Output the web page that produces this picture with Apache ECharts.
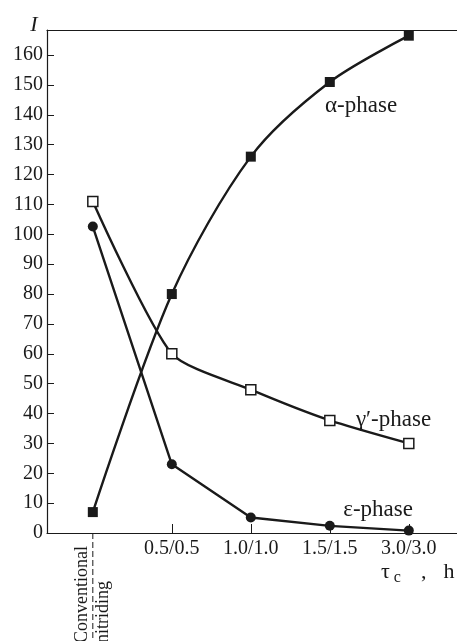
<!DOCTYPE html>
<html>
<head>
<meta charset="utf-8">
<script src="https://cdn.jsdelivr.net/npm/echarts@6/dist/echarts.min.js"></script>
<style>
html,body{margin:0;padding:0;background:#fff;}
#c{width:457px;height:641px;}
</style>
</head>
<body>
<div id="c"></div>
<script>
// ---- data ----
var xPositions = [0, 1, 2, 3, 4];
var categories = ['Conventional nitriding', '0.5/0.5', '1.0/1.0', '1.5/1.5', '3.0/3.0'];
var alphaPhase = [7, 80, 126, 151, 166.5];
var gammaPhase = [111, 60, 48, 37.7, 30];
var epsPhase   = [102.6, 23, 5.2, 2.4, 0.8];
var yTicks = [0,10,20,30,40,50,60,70,80,90,100,110,120,130,140,150,160];
var xTickValues = [1, 2, 3, 4];

var FONT = 'Liberation Serif';
var INK = '#1a1a1a';

function pairs(vals){ return xPositions.map(function(x,i){ return [x, vals[i]]; }); }

var chart = echarts.init(document.getElementById('c'), null, {renderer:'canvas'});
var option = {
  animation: false,
  backgroundColor: '#fff',
  grid: {left: 47, right: 0, top: 30, bottom: 108},
  xAxis: [{
    type: 'value', min: -0.58, max: 4.61, position: 'bottom',
    splitLine: {show:false},
    axisLine: {show:true, onZero:false, lineStyle:{color:INK, width:1.2}},
    axisTick: {show:true, inside:true, length:9, customValues: xTickValues, lineStyle:{color:INK, width:1}},
    axisLabel: {show:true, customValues: xTickValues, margin:6, fontFamily:FONT, fontSize:20, color:INK,
      formatter: function(v){ return categories[Math.round(v)]; }}
  },{
    type: 'value', min: -0.58, max: 4.61, position: 'top',
    splitLine: {show:false},
    axisLine: {show:true, onZero:false, lineStyle:{color:INK, width:1.2}},
    axisTick: {show:false}, axisLabel: {show:false}
  }],
  yAxis: {
    type: 'value', min: 0, max: 168.4,
    splitLine: {show:false},
    axisLine: {show:true, onZero:false, lineStyle:{color:INK, width:1.2}},
    axisTick: {show:true, inside:true, length:7, customValues: yTicks, lineStyle:{color:INK, width:1}},
    axisLabel: {show:true, customValues: yTicks, margin:4, fontFamily:FONT, fontSize:20, color:INK}
  },
  series: [{
    name: 'α-phase', type: 'line', data: pairs(alphaPhase), smooth: 0.3,
    symbol: 'rect', symbolSize: 10,
    lineStyle: {color: INK, width: 2.4},
    itemStyle: {color: INK, borderColor: INK, borderWidth: 0}
  },{
    name: "γ′-phase", type: 'line', data: pairs(gammaPhase), smooth: 0.22,
    symbol: 'rect', symbolSize: 10,
    lineStyle: {color: INK, width: 2.4},
    itemStyle: {color: '#fff', borderColor: INK, borderWidth: 1.5}
  },{
    name: 'ε-phase', type: 'line', data: pairs(epsPhase), smooth: false,
    symbol: 'circle', symbolSize: 10,
    lineStyle: {color: INK, width: 2.4},
    itemStyle: {color: INK, borderColor: INK, borderWidth: 0}
  }]
};
chart.setOption(option);

function px(x, y){ return chart.convertToPixel({xAxisIndex:0, yAxisIndex:0}, [x, y]); }
var p0 = px(0, 0);
var pA = px(2.94, 142.9);
var pG = px(3.33, 37.8);
var pE = px(3.17, 7.7);
var pTop = px(-0.58, 168.4);
var pRight = px(4.61, 0);

chart.setOption({
  graphic: [
    {type:'line', shape:{x1:p0[0], y1:p0[1], x2:p0[0], y2:641}, style:{stroke:INK, lineWidth:1, lineDash:[6,3]}},
    {type:'text', x: p0[0]-11, y: 643, rotation: Math.PI/2,
      style:{text:'Conventional', font:'18px "'+FONT+'"', fill:INK, textAlign:'left', textVerticalAlign:'middle'}},
    {type:'text', x: p0[0]+10, y: 643, rotation: Math.PI/2,
      style:{text:'nitriding', font:'18px "'+FONT+'"', fill:INK, textAlign:'left', textVerticalAlign:'middle'}},
    {type:'text', x: pA[0], y: pA[1],
      style:{text:'α-phase', font:'23px "'+FONT+'"', fill:INK, textAlign:'left', textVerticalAlign:'middle'}},
    {type:'text', x: pG[0], y: pG[1],
      style:{text:'γ′-phase', font:'23px "'+FONT+'"', fill:INK, textAlign:'left', textVerticalAlign:'middle'}},
    {type:'text', x: pE[0], y: pE[1],
      style:{text:'ε-phase', font:'23px "'+FONT+'"', fill:INK, textAlign:'left', textVerticalAlign:'middle'}},
    {type:'text', x: pTop[0]-13, y: 25,
      style:{text:'I', font:'italic 22px "'+FONT+'"', fill:INK, textAlign:'center', textVerticalAlign:'middle'}},
    {type:'text', x: pRight[0]-76, y: 572,
      style:{
        rich:{
          a:{font:'22px "'+FONT+'"', fill:INK},
          b:{font:'16px "'+FONT+'"', fill:INK, padding:[12,0,0,4]},
          s:{font:'22px "'+FONT+'"', fill:INK, padding:[0,0,0,20]},
          h:{font:'22px "'+FONT+'"', fill:INK, padding:[0,0,0,17]}
        },
        text:'{a|τ}{b|c}{s|,}{h|h}', textAlign:'left', textVerticalAlign:'middle'}}
  ]
});
</script>
</body>
</html>
